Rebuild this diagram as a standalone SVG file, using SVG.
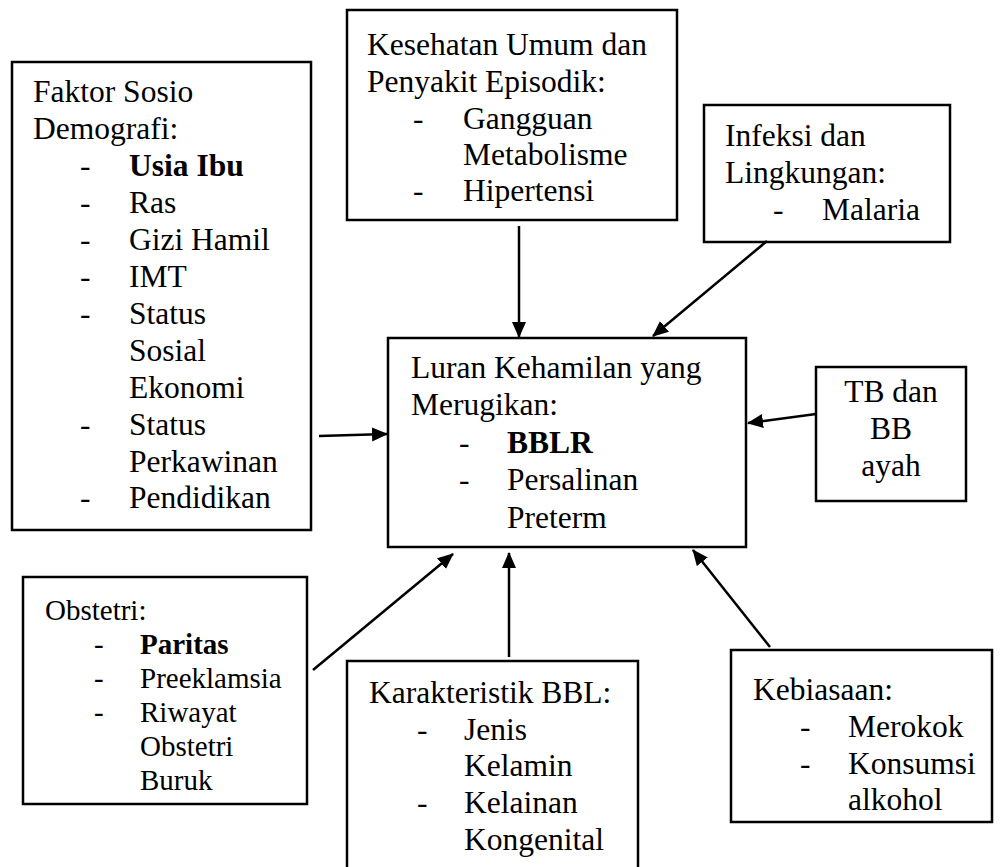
<svg xmlns="http://www.w3.org/2000/svg" width="1000" height="867" viewBox="0 0 1000 867">
<defs>
<marker id="ah" viewBox="0 0 16 16" refX="15" refY="8" markerWidth="16" markerHeight="16" markerUnits="userSpaceOnUse" orient="auto">
<path d="M0,1 L16,8 L0,15 Z" fill="#000"/>
</marker>
<style>
.box{fill:#fff;stroke:#000;stroke-width:2.5}
text{font-family:"Liberation Serif","Times New Roman",serif;font-size:31.5px;fill:#000}
.sm{font-size:29px}
.b{font-weight:bold}
.c{text-anchor:middle}
.con line{stroke:#000;stroke-width:2.5;marker-end:url(#ah)}
</style>
</defs>
<rect width="1000" height="867" fill="#fff"/>
<g id="faktor">
<rect class="box" x="12" y="62" width="299" height="468"/>
<text x="33" y="102">Faktor Sosio</text>
<text x="33" y="139">Demografi:</text>
<text x="80" y="176">-</text><text x="129" y="176" class="b">Usia Ibu</text>
<text x="80" y="213">-</text><text x="129" y="213">Ras</text>
<text x="80" y="250">-</text><text x="129" y="250">Gizi Hamil</text>
<text x="80" y="287">-</text><text x="129" y="287">IMT</text>
<text x="80" y="324">-</text><text x="129" y="324">Status</text>
<text x="129" y="361">Sosial</text>
<text x="129" y="398">Ekonomi</text>
<text x="80" y="435">-</text><text x="129" y="435">Status</text>
<text x="129" y="472">Perkawinan</text>
<text x="80" y="508">-</text><text x="129" y="508">Pendidikan</text>
</g>
<g id="kesehatan">
<rect class="box" x="347" y="10" width="330" height="210"/>
<text x="367" y="55">Kesehatan Umum dan</text>
<text x="367" y="92">Penyakit Episodik:</text>
<text x="413" y="129">-</text><text x="463" y="129">Gangguan</text>
<text x="463" y="165">Metabolisme</text>
<text x="413" y="201">-</text><text x="463" y="201">Hipertensi</text>
</g>
<g id="infeksi">
<rect class="box" x="704" y="105" width="246" height="137"/>
<text x="725" y="146">Infeksi dan</text>
<text x="725" y="183">Lingkungan:</text>
<text x="773" y="220">-</text><text x="822" y="220">Malaria</text>
</g>
<g id="luaran">
<rect class="box" x="388" y="338" width="358" height="209"/>
<text x="411" y="378">Luran Kehamilan yang</text>
<text x="411" y="415">Merugikan:</text>
<text x="459" y="453">-</text><text x="507" y="453" class="b">BBLR</text>
<text x="459" y="490">-</text><text x="507" y="490">Persalinan</text>
<text x="507" y="528">Preterm</text>
</g>
<g id="tb">
<rect class="box" x="816" y="367" width="150" height="134"/>
<text x="891" y="402" class="c">TB dan</text>
<text x="891" y="439" class="c">BB</text>
<text x="891" y="476" class="c">ayah</text>
</g>
<g id="obstetri">
<rect class="box" x="23" y="577" width="284" height="227"/>
<text x="45" y="620" class="sm">Obstetri:</text>
<text x="94" y="654" class="sm">-</text><text x="140" y="654" class="sm b">Paritas</text>
<text x="94" y="688" class="sm">-</text><text x="140" y="688" class="sm">Preeklamsia</text>
<text x="94" y="722" class="sm">-</text><text x="140" y="722" class="sm">Riwayat</text>
<text x="140" y="756" class="sm">Obstetri</text>
<text x="140" y="790" class="sm">Buruk</text>
</g>
<g id="karakteristik">
<rect class="box" x="347" y="661" width="291" height="210"/>
<text x="369" y="703">Karakteristik BBL:</text>
<text x="417" y="740">-</text><text x="464" y="740">Jenis</text>
<text x="464" y="776">Kelamin</text>
<text x="417" y="813">-</text><text x="464" y="813">Kelainan</text>
<text x="464" y="850">Kongenital</text>
</g>
<g id="kebiasaan">
<rect class="box" x="731" y="650" width="261" height="172"/>
<text x="753" y="700">Kebiasaan:</text>
<text x="800" y="737">-</text><text x="848" y="737">Merokok</text>
<text x="800" y="774">-</text><text x="848" y="774">Konsumsi</text>
<text x="848" y="810">alkohol</text>
</g>
<g id="connectors" class="con">
<line x1="319" y1="436" x2="387" y2="434"/>
<line x1="519" y1="226" x2="519" y2="337"/>
<line x1="767" y1="241" x2="653" y2="336"/>
<line x1="816" y1="414" x2="748" y2="423"/>
<line x1="313" y1="670" x2="453" y2="554"/>
<line x1="509" y1="657" x2="509" y2="553"/>
<line x1="770" y1="647" x2="693" y2="550"/>
</g>
</svg>
